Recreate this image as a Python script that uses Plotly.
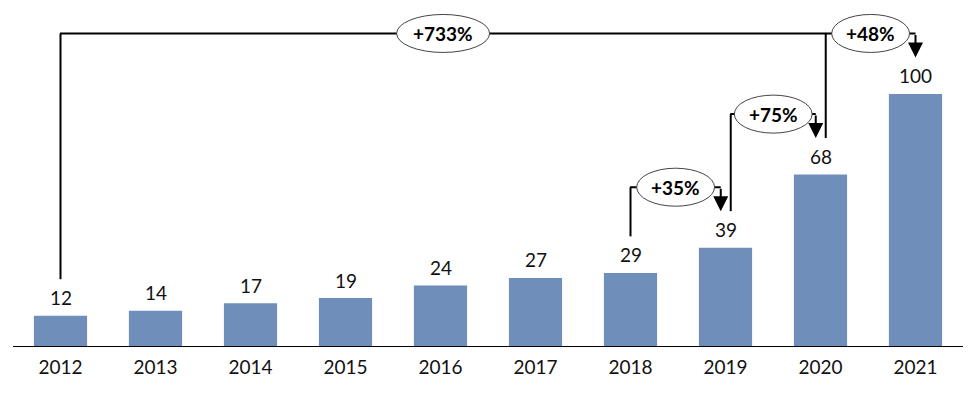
import plotly.graph_objects as go

years = ["2012", "2013", "2014", "2015", "2016", "2017", "2018", "2019", "2020", "2021"]
values = [12, 14, 17, 19, 24, 27, 29, 39, 68, 100]

growth_start = ["2018", "2019", "2020", "2012"]
growth_end = ["2019", "2020", "2021", "2021"]
growth_label = ["+35%", "+75%", "+48%", "+733%"]

BAR_COLOR = "#6F8EBA"
FONT = "Lato"
idx = {y: i for i, y in enumerate(years)}
xs = list(range(len(years)))

fig = go.Figure()
fig.add_trace(go.Bar(x=xs, y=values, marker=dict(color=BAR_COLOR, line=dict(width=0)),
                     hoverinfo="skip", width=0.56))

# value labels
for i, v in zip(xs, values):
    fig.add_annotation(x=i, y=v, text=str(v), showarrow=False, yanchor="middle", yshift=18,
                       font=dict(family=FONT, size=19, color="#111111"))

shapes = []
LINE = dict(color="black", width=2)
gap = 14.5      # gap above value to bracket end
rise = 9.5      # bracket level above arrow tip
starts_set = set(growth_start)
ends_set = set(growth_end)

def sx(y):
    return idx[y] + (0.055 if y in ends_set else 0.0)

def ex(y):
    return idx[y] - (0.05 if y in starts_set else 0.0)

for s, e, lab in zip(growth_start, growth_end, growth_label):
    vs, ve = values[idx[s]], values[idx[e]]
    level = ve + gap + rise
    x0 = sx(s)
    x1 = ex(e)
    joins = [sx(s2) for s2, e2 in zip(growth_start, growth_end) if e2 == e and idx[s2] > idx[s]]
    seg_end = max(joins) if joins else x1
    shapes.append(dict(type="line", xref="x", yref="y", x0=x0, x1=x0, y0=vs + gap, y1=level, line=LINE, layer="above"))
    shapes.append(dict(type="line", xref="x", yref="y", x0=x0 - 0.005, x1=seg_end, y0=level, y1=level, line=LINE, layer="above"))
    if not joins:
        fig.add_annotation(x=x1, y=ve + gap, ax=x1, ay=level, axref="x", ayref="y", xref="x", yref="y",
                           text="", showarrow=True, arrowhead=2, arrowsize=1.5, arrowwidth=2,
                           arrowcolor="black", standoff=0)
    mid = (x0 + seg_end) / 2
    w = 17 + 15.2 * len(lab)
    shapes.append(dict(type="circle", xref="x", yref="y", xsizemode="pixel", ysizemode="pixel",
                       xanchor=mid, yanchor=level, x0=-w / 2, x1=w / 2, y0=-19, y1=19,
                       fillcolor="white", line=dict(color="#444444", width=1), layer="above"))
    fig.add_annotation(x=mid, y=level, text="<b>" + lab + "</b>", showarrow=False,
                       font=dict(family=FONT, size=19, color="black"))

# the page body has an 8px default margin, so the figure is sized to end at the window edge
fig.update_layout(
    width=967, height=385,
    margin=dict(l=5, r=12, t=0, b=47),
    paper_bgcolor="white", plot_bgcolor="white",
    showlegend=False, shapes=shapes,
    xaxis=dict(range=[-0.5, 9.5], tickvals=xs, ticktext=years, showline=True, linecolor="black",
               linewidth=1, ticks="", showgrid=False, zeroline=False, fixedrange=True,
               tickfont=dict(family=FONT, size=19, color="#111111"), ticklabelstandoff=4),
    yaxis=dict(range=[0, 134.1], visible=False, fixedrange=True),
)

fig.write_html("out.html")
